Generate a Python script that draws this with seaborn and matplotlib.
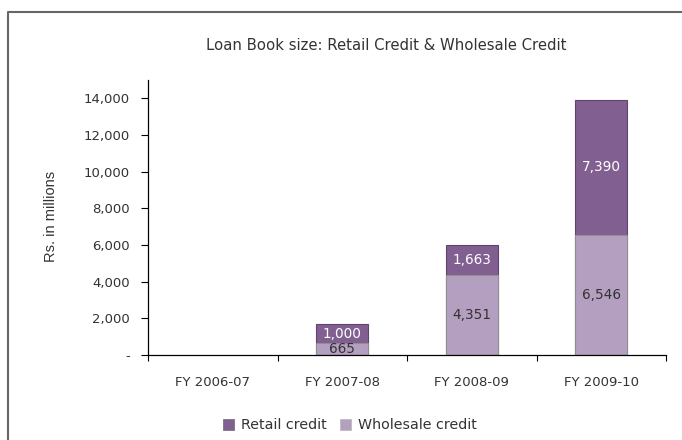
import matplotlib
matplotlib.use("Agg")
import matplotlib.pyplot as plt
import matplotlib.ticker as mticker
from matplotlib.lines import Line2D
from matplotlib.patches import Patch
import seaborn as sns
import pandas as pd

categories = ["FY 2006-07", "FY 2007-08", "FY 2008-09", "FY 2009-10"]
wholesale = [0, 665, 4351, 6546]
retail = [0, 1000, 1663, 7390]
title = "Loan Book size: Retail Credit & Wholesale Credit"
ylabel = "Rs. in millions"
yticks = [0, 2000, 4000, 6000, 8000, 10000, 12000, 14000]

sns.set_theme(style="white")
plt.rcParams["font.family"] = ["DejaVu Sans"]

dark = "#825f91"
light = "#b49fc1"
txt = "#333333"

df = pd.DataFrame({"category": categories, "wholesale": wholesale, "retail": retail})
df["total"] = df["wholesale"] + df["retail"]

fig = plt.figure(figsize=(6.82, 4.40), dpi=100)
ax = fig.add_axes([148/682, 1-355/440, (666-148)/682, (355-80)/440])

sns.barplot(data=df, x="category", y="total", order=categories, color=dark,
            width=0.4, edgecolor="#5f4470", linewidth=0.8, ax=ax, saturation=1)
sns.barplot(data=df, x="category", y="wholesale", order=categories, color=light,
            width=0.4, edgecolor="#8f8f8f", linewidth=0.8, ax=ax, saturation=1)
for p in ax.patches:
    if p.get_height() == 0:
        p.set_visible(False)

for i, (w, r) in enumerate(zip(wholesale, retail)):
    if w > 0:
        ax.text(i, w/2, f"{w:,}", ha="center", va="center", fontsize=9.8, color=txt)
    if r > 0:
        ax.text(i, w + r/2, f"{r:,}", ha="center", va="center", fontsize=9.8, color="white")

ax.set_xlim(-0.5, 3.5)
ax.set_ylim(0, 15000)
ax.set_yticks(yticks)
ax.yaxis.set_major_formatter(mticker.FuncFormatter(lambda v, p: "-" if v == 0 else f"{int(v):,}"))
ax.set_xticks(range(len(categories)))
ax.set_xticklabels(categories)
ax.set_xticks([-0.5, 0.5, 1.5, 2.5, 3.5], minor=True)
ax.tick_params(axis="x", which="major", length=0, pad=15, labelsize=9.5, labelcolor=txt)
ax.tick_params(axis="x", which="minor", length=4, width=0.8, direction="out", color="black", bottom=True)
ax.tick_params(axis="y", which="major", length=5, width=0.8, direction="out", color="black",
               left=True, labelsize=9.5, labelcolor=txt, pad=8)
ax.set_xlabel("")
ax.set_ylabel("")
for s in ["top", "right"]:
    ax.spines[s].set_visible(False)
for s in ["left", "bottom"]:
    ax.spines[s].set_color("black")
    ax.spines[s].set_linewidth(0.9)

fig.text(386/682, 1-45/440, title, ha="center", va="center", fontsize=10.7, color=txt)
fig.text(51/682, 1-216/440, ylabel, ha="center", va="center", rotation=90, fontsize=10.5,
         color=txt, family=["Liberation Sans", "DejaVu Sans"])

handles = [Patch(facecolor=dark, edgecolor="#777777", linewidth=0.6),
           Patch(facecolor=light, edgecolor="#bbbbbb", linewidth=0.6)]
fig.legend(handles, ["Retail credit", "Wholesale credit"], loc="center",
           bbox_to_anchor=(350/682, 1-425/440), ncol=2, frameon=False, fontsize=10.3,
           handlelength=0.8, handleheight=0.8, handletextpad=0.5, columnspacing=0.9,
           labelcolor=txt)

fig.add_artist(Line2D([8/682, 8/682, 1.05], [-0.05, 1-12/440, 1-12/440],
                      transform=fig.transFigure, color="#666666", linewidth=1.5))

fig.savefig("out.png", dpi=100)
